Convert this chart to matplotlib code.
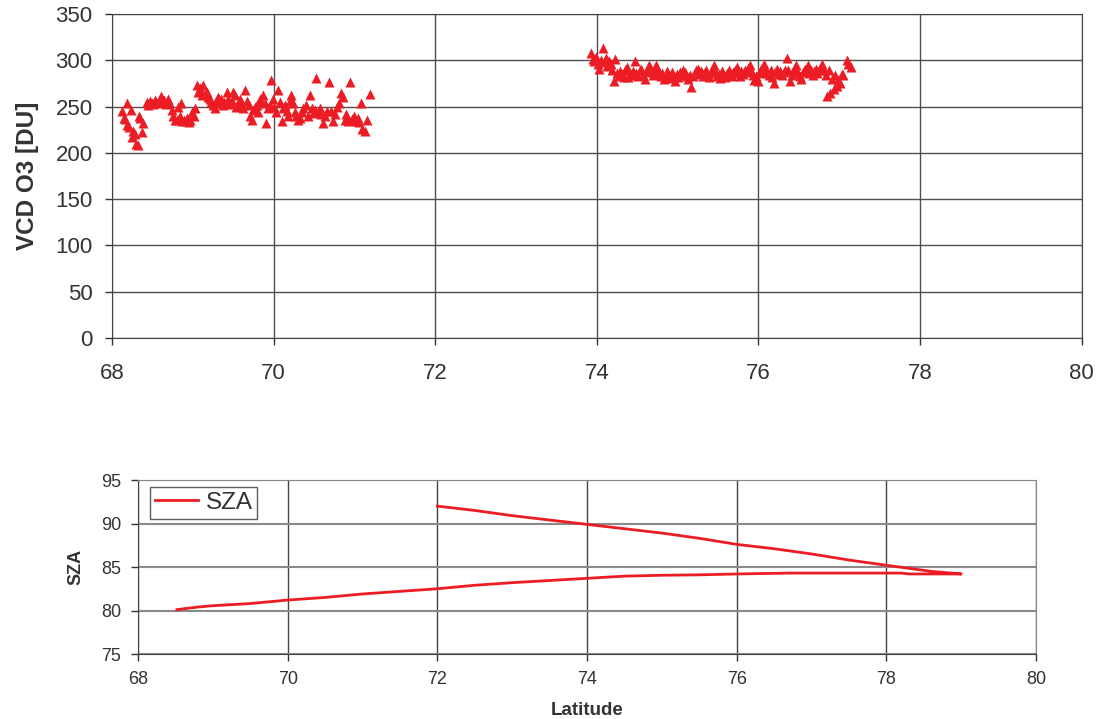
import matplotlib.pyplot as plt

# VCD O3 along track, first segment
lat1 = [68.13, 68.15, 68.16, 68.18, 68.19, 68.21, 68.23, 68.25, 68.26, 68.28, 68.30, 68.32,
        68.34, 68.35, 68.37, 68.39, 68.43, 68.45, 68.47, 68.49, 68.51, 68.53, 68.55, 68.57,
        68.59, 68.61, 68.63, 68.65, 68.67, 68.69, 68.71, 68.74, 68.76, 68.78, 68.80, 68.82,
        68.84, 68.85, 68.87, 68.89, 68.91, 68.93, 68.95, 68.97, 68.99, 69.01, 69.03, 69.05,
        69.07, 69.09, 69.11, 69.13, 69.15, 69.17, 69.19, 69.21, 69.23, 69.25, 69.27, 69.29,
        69.31, 69.33, 69.35, 69.37, 69.39, 69.42, 69.44, 69.46, 69.48, 69.50, 69.52, 69.54,
        69.56, 69.58, 69.60, 69.62, 69.65, 69.67, 69.69, 69.71, 69.73, 69.75, 69.77, 69.79,
        69.81, 69.83, 69.85, 69.87, 69.89, 69.91, 69.93, 69.95, 69.97, 69.99, 70.01, 70.03,
        70.06, 70.08, 70.10, 70.12, 70.14, 70.16, 70.18, 70.20, 70.22, 70.24, 70.26, 70.28,
        70.30, 70.33, 70.35, 70.37, 70.40, 70.42, 70.45, 70.47, 70.49, 70.51, 70.53, 70.55,
        70.57, 70.59, 70.61, 70.63, 70.66, 70.69, 70.71, 70.73, 70.76, 70.78, 70.81, 70.84,
        70.86, 70.88, 70.90, 70.92, 70.95, 70.97, 70.99, 71.02, 71.04, 71.06, 71.08, 71.10,
        71.13, 71.15, 71.19]
o3_1 = [245, 238, 237, 230, 254, 228, 246, 217, 224, 220, 210, 208,
        240, 238, 222, 232, 255, 252, 256, 254, 253, 257, 255, 254,
        258, 261, 255, 257, 253, 258, 255, 246, 240, 236, 235, 250,
        240, 254, 234, 236, 234, 238, 233, 236, 244, 240, 248, 273,
        266, 270, 262, 273, 264, 266, 260, 258, 255, 252, 248, 256,
        260, 254, 258, 252, 255, 266, 258, 253, 256, 266, 262, 250,
        252, 258, 254, 248, 268, 256, 252, 240, 235, 246, 250, 252,
        244, 258, 255, 262, 254, 232, 248, 252, 279, 258, 250, 244,
        268, 255, 234, 248, 252, 245, 240, 256, 262, 254, 244, 240,
        236, 238, 244, 248, 252, 240, 262, 248, 243, 246, 281, 244,
        248, 242, 232, 240, 245, 277, 245, 234, 242, 250, 254, 265,
        260, 236, 242, 234, 277, 237, 240, 234, 238, 233, 254, 226,
        224, 235, 264]

# second segment
lat2 = [73.93, 73.95, 73.97, 73.99, 74.01, 74.03, 74.05, 74.07, 74.09, 74.11, 74.13, 74.15,
        74.17, 74.19, 74.21, 74.23, 74.25, 74.27, 74.29, 74.31, 74.33, 74.35, 74.37, 74.39,
        74.41, 74.43, 74.45, 74.47, 74.49, 74.51, 74.53, 74.55, 74.57, 74.59, 74.61, 74.63,
        74.65, 74.67, 74.69, 74.71, 74.73, 74.75, 74.77, 74.79, 74.81, 74.83, 74.85, 74.87,
        74.89, 74.91, 74.93, 74.95, 74.97, 74.99, 75.01, 75.03, 75.05, 75.07, 75.09, 75.11,
        75.13, 75.15, 75.17, 75.19, 75.21, 75.23, 75.25, 75.27, 75.29, 75.31, 75.33, 75.35,
        75.37, 75.39, 75.41, 75.43, 75.45, 75.47, 75.49, 75.51, 75.53, 75.55, 75.57, 75.59,
        75.61, 75.63, 75.65, 75.67, 75.69, 75.71, 75.73, 75.75, 75.77, 75.79, 75.81, 75.83,
        75.85, 75.87, 75.89, 75.91, 75.93, 75.95, 75.97, 75.99, 76.01, 76.03, 76.05, 76.07,
        76.09, 76.11, 76.13, 76.15, 76.17, 76.19, 76.21, 76.23, 76.25, 76.27, 76.29, 76.31,
        76.33, 76.35, 76.37, 76.39, 76.41, 76.43, 76.45, 76.47, 76.49, 76.51, 76.53, 76.55,
        76.57, 76.59, 76.61, 76.63, 76.65, 76.67, 76.69, 76.71, 76.73, 76.75, 76.77, 76.79,
        76.81, 76.83, 76.85, 76.87, 76.89, 76.91, 76.93, 76.95, 76.97, 76.99, 77.01, 77.03,
        77.05, 77.09, 77.11, 77.15]
o3_2 = [308, 301, 299, 304, 296, 291, 300, 313, 298, 303, 294, 299,
        296, 290, 278, 301, 286, 283, 288, 285, 282, 290, 293, 282,
        286, 284, 288, 299, 286, 283, 289, 291, 284, 280, 287, 292,
        295, 288, 284, 290, 295, 292, 286, 283, 286, 280, 282, 288,
        284, 281, 287, 283, 278, 285, 282, 287, 284, 290, 287, 283,
        280, 284, 271, 283, 286, 289, 291, 285, 288, 283, 286, 289,
        284, 282, 287, 290, 295, 286, 283, 285, 281, 288, 284, 282,
        286, 289, 285, 283, 287, 290, 293, 286, 283, 288, 285, 290,
        287, 292, 295, 288, 284, 279, 283, 278, 286, 291, 287, 296,
        290, 286, 284, 289, 282, 275, 287, 291, 285, 288, 284, 287,
        290, 302, 289, 278, 284, 288, 292, 295, 286, 283, 280, 287,
        291, 288, 295, 286, 290, 284, 288, 291, 286, 289, 293, 296,
        289, 284, 261, 289, 265, 280, 269, 284, 272, 279, 276, 285,
        284, 300, 296, 293]

# solar zenith angle, out along lower branch and back along upper one
sza_lat = [68.52, 68.8, 69.0, 69.5, 70.0, 70.5, 71.0, 71.5, 72.0, 72.5, 73.0, 73.5,
           74.0, 74.5, 75.0, 75.5, 76.0, 76.7, 77.5, 78.2, 78.3, 79.0,
           78.6, 78.0, 77.5, 77.0, 76.5, 76.0, 75.5, 75.0, 74.5, 74.0, 73.5, 73.0,
           72.5, 72.0]
sza = [80.1, 80.4, 80.55, 80.8, 81.2, 81.5, 81.9, 82.2, 82.5, 82.9, 83.2, 83.45,
       83.7, 83.95, 84.05, 84.1, 84.2, 84.3, 84.3, 84.3, 84.2, 84.2,
       84.5, 85.2, 85.8, 86.5, 87.1, 87.6, 88.3, 88.9, 89.4, 89.9, 90.4, 90.9,
       91.5, 92.0]

red = '#ec1c24'
txt = '#333333'
plt.rcParams['font.family'] = ['Liberation Sans', 'DejaVu Sans']

fig = plt.figure(figsize=(11.02, 7.19), dpi=100)

ax1 = fig.add_axes([0.1016, 0.530, 0.880, 0.4505])
ax1.scatter(lat1, o3_1, marker='^', s=52, color=red, linewidths=0, zorder=3)
ax1.scatter(lat2, o3_2, marker='^', s=52, color=red, linewidths=0, zorder=3)
ax1.set_xlim(68, 80)
ax1.set_ylim(0, 350)
ax1.set_xticks(range(68, 81, 2))
ax1.set_yticks(range(0, 351, 50))
ax1.grid(True, color='#505050', linewidth=1)
ax1.set_axisbelow(True)
ax1.tick_params(labelsize=16, colors=txt, length=5, width=1)
ax1.tick_params(axis='x', pad=13)
ax1.tick_params(axis='y', pad=9)
ax1.set_ylabel('VCD O3 [DU]', fontsize=17.5, fontweight='bold', color=txt, labelpad=12)
for s in ax1.spines.values():
    s.set_color('#444444')

ax2 = fig.add_axes([0.1252, 0.0904, 0.8150, 0.2420])
ax2.plot(sza_lat, sza, color=red, linewidth=2, label='SZA', zorder=3)
ax2.set_xlim(68, 80)
ax2.set_ylim(75, 95)
ax2.set_xticks(range(68, 81, 2))
ax2.set_yticks(range(75, 96, 5))
ax2.grid(True, axis='y', color='#8a8a8a', linewidth=1.5)
ax2.grid(True, axis='x', color='#444444', linewidth=1)
ax2.set_axisbelow(True)
ax2.tick_params(labelsize=13, colors=txt, length=5, width=1, pad=7)
ax2.set_ylabel('SZA', fontsize=13, fontweight='bold', color=txt, labelpad=12)
ax2.set_xlabel('Latitude', fontsize=13.5, fontweight='bold', color=txt, labelpad=10)
for s in ax2.spines.values():
    s.set_color('#444444')
ax2.spines['right'].set_color('#888888')
ax2.spines['top'].set_color('#888888')
leg = ax2.legend(loc='upper left', fontsize=17.5, frameon=True, fancybox=False,
                 handlelength=1.8, borderpad=0.2, handletextpad=0.3,
                 borderaxespad=0, bbox_to_anchor=(0.013, 0.96))
leg.get_frame().set_edgecolor('#333333')
leg.get_frame().set_linewidth(1)
for t in leg.get_texts():
    t.set_color(txt)

fig.savefig('out.png', dpi=100)
